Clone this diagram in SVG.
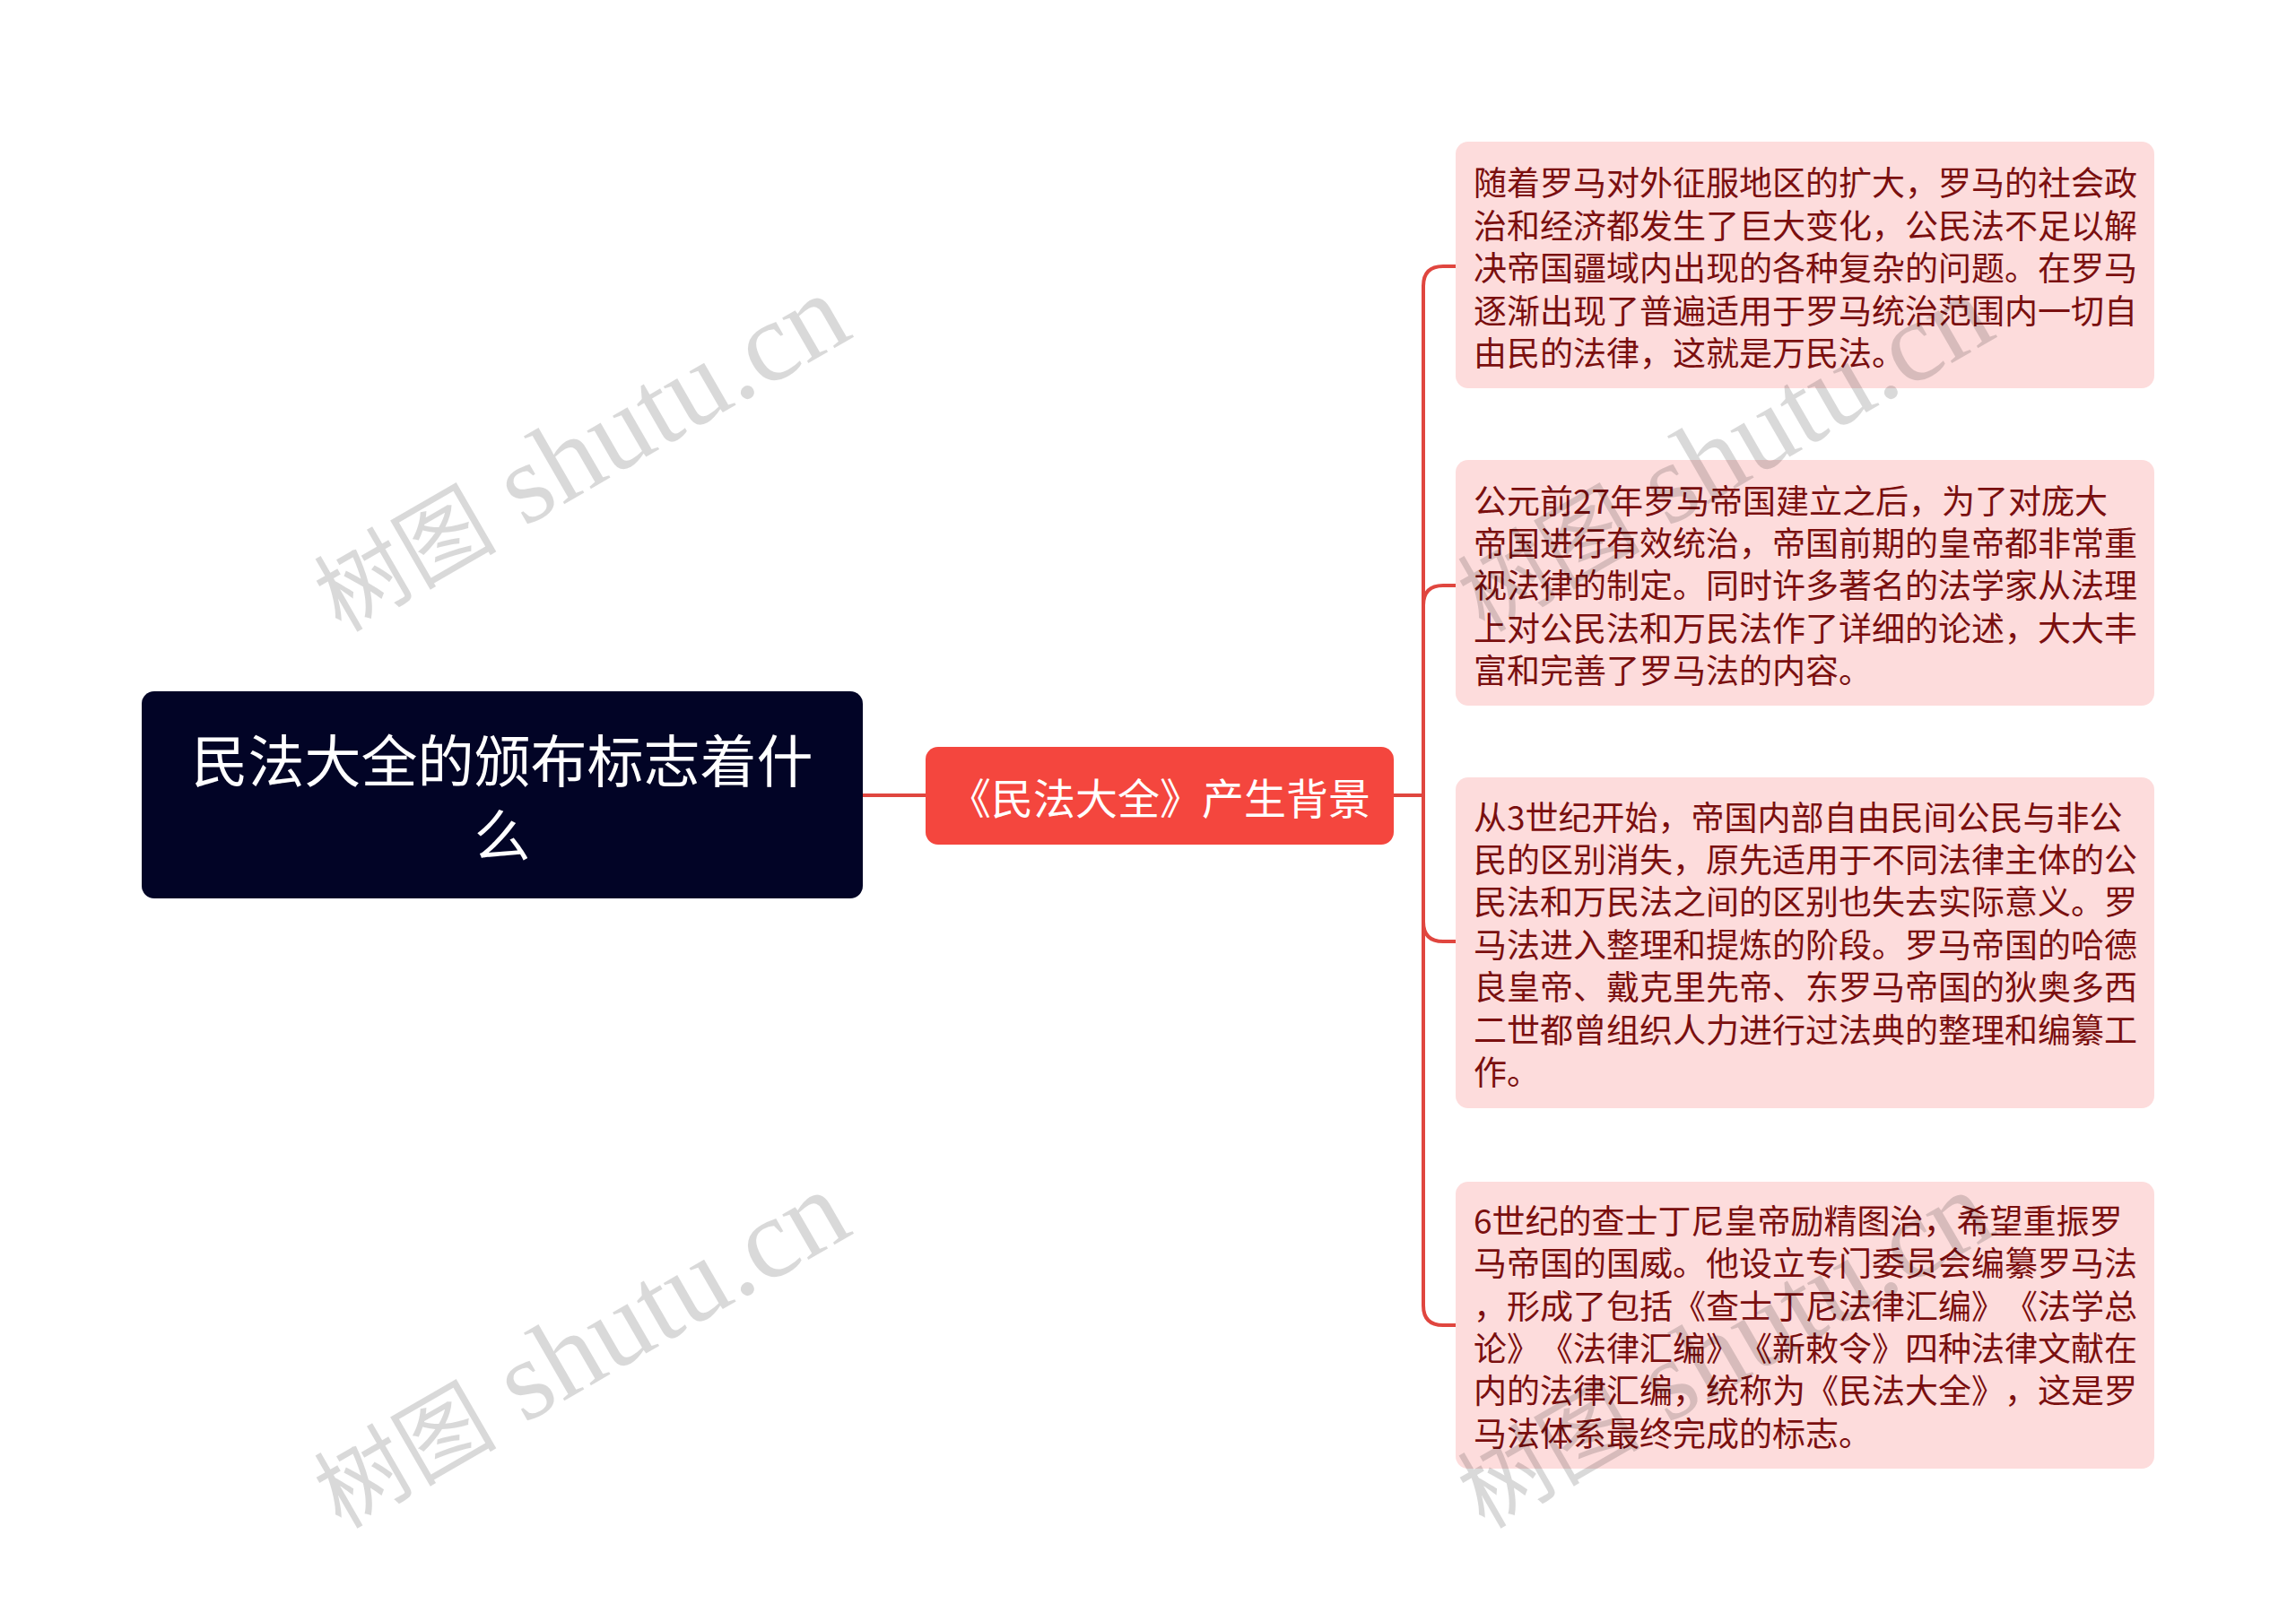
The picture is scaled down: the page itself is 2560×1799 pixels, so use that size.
<svg xmlns="http://www.w3.org/2000/svg" width="2560" height="1799" viewBox="0 0 2560 1799">
<style>
text{text-spacing-trim:space-all;font-kerning:none}
.root-box{fill:#020426}
.root-t{fill:#ffffff;font-family:"Noto Sans CJK SC",sans-serif;font-size:63px;text-anchor:middle;dominant-baseline:central}
.mid-box{fill:#f4463e}
.mid-t{fill:#ffffff;font-family:"Noto Sans CJK SC",sans-serif;font-size:47px;text-anchor:middle;dominant-baseline:central}
.leaf-box{fill:#fddcdc}
.leaf-t{fill:#7a0f0f;font-family:"Noto Sans CJK SC",sans-serif;font-size:37px;dominant-baseline:central}
.conn{fill:none;stroke:#e0463f;stroke-width:4}
.wm{fill:#000;fill-opacity:0.15;font-family:"Liberation Serif","Noto Sans CJK SC",serif;font-size:127px}
.wm-cjk{font-size:102px}
</style>
<rect width="2560" height="1799" fill="#ffffff"/>
<g id="connectors">
<path class="conn" d="M962,887 L1032,887"/>
<path class="conn" d="M1554,887 L1587,887"/>
<path class="conn" d="M1587,887 L1587,319 Q1587,297 1609,297 L1623,297"/>
<path class="conn" d="M1587,887 L1587,675 Q1587,653 1609,653 L1623,653"/>
<path class="conn" d="M1587,887 L1587,1028 Q1587,1050 1609,1050 L1623,1050"/>
<path class="conn" d="M1587,887 L1587,1456 Q1587,1478 1609,1478 L1623,1478"/>
</g>
<g id="root">
<rect class="root-box" x="158" y="771" width="804" height="231" rx="14"/>
<text class="root-t" x="560" y="844">民法大全的颁布标志着什</text>
<text class="root-t" x="560" y="927">么</text>
</g>
<g id="mid">
<rect class="mid-box" x="1032" y="833" width="522" height="109" rx="14"/>
<text class="mid-t" x="1293" y="887">《民法大全》产生背景</text>
</g>
<g id="leaf1">
<rect class="leaf-box" x="1623" y="158" width="779" height="275" rx="14"/>
<text class="leaf-t" x="1643" y="202">随着罗马对外征服地区的扩大，罗马的社会政</text>
<text class="leaf-t" x="1643" y="250">治和经济都发生了巨大变化，公民法不足以解</text>
<text class="leaf-t" x="1643" y="297">决帝国疆域内出现的各种复杂的问题。在罗马</text>
<text class="leaf-t" x="1643" y="345">逐渐出现了普遍适用于罗马统治范围内一切自</text>
<text class="leaf-t" x="1643" y="392">由民的法律，这就是万民法。</text>
</g>
<g id="leaf2">
<rect class="leaf-box" x="1623" y="513" width="779" height="274" rx="14"/>
<text class="leaf-t" x="1643" y="557">公元前27年罗马帝国建立之后，为了对庞大</text>
<text class="leaf-t" x="1643" y="604">帝国进行有效统治，帝国前期的皇帝都非常重</text>
<text class="leaf-t" x="1643" y="651">视法律的制定。同时许多著名的法学家从法理</text>
<text class="leaf-t" x="1643" y="699">上对公民法和万民法作了详细的论述，大大丰</text>
<text class="leaf-t" x="1643" y="746">富和完善了罗马法的内容。</text>
</g>
<g id="leaf3">
<rect class="leaf-box" x="1623" y="867" width="779" height="369" rx="14"/>
<text class="leaf-t" x="1643" y="910">从3世纪开始，帝国内部自由民间公民与非公</text>
<text class="leaf-t" x="1643" y="957">民的区别消失，原先适用于不同法律主体的公</text>
<text class="leaf-t" x="1643" y="1004">民法和万民法之间的区别也失去实际意义。罗</text>
<text class="leaf-t" x="1643" y="1052">马法进入整理和提炼的阶段。罗马帝国的哈德</text>
<text class="leaf-t" x="1643" y="1099">良皇帝、戴克里先帝、东罗马帝国的狄奥多西</text>
<text class="leaf-t" x="1643" y="1147">二世都曾组织人力进行过法典的整理和编纂工</text>
<text class="leaf-t" x="1643" y="1194">作。</text>
</g>
<g id="leaf4">
<rect class="leaf-box" x="1623" y="1318" width="779" height="320" rx="14"/>
<text class="leaf-t" x="1643" y="1360">6世纪的查士丁尼皇帝励精图治，希望重振罗</text>
<text class="leaf-t" x="1643" y="1407">马帝国的国威。他设立专门委员会编纂罗马法</text>
<text class="leaf-t" x="1643" y="1455">，形成了包括《查士丁尼法律汇编》《法学总</text>
<text class="leaf-t" x="1643" y="1502">论》《法律汇编》《新敕令》四种法律文献在</text>
<text class="leaf-t" x="1643" y="1549">内的法律汇编，统称为《民法大全》，这是罗</text>
<text class="leaf-t" x="1643" y="1597">马法体系最终完成的标志。</text>
</g>
<g id="watermarks">
<text class="wm" transform="translate(380,706) rotate(-30)"><tspan class="wm-cjk">树图</tspan> shutu.cn</text>
<text class="wm" transform="translate(380,1706) rotate(-30)"><tspan class="wm-cjk">树图</tspan> shutu.cn</text>
<text class="wm" transform="translate(1655,706) rotate(-30)"><tspan class="wm-cjk">树图</tspan> shutu.cn</text>
<text class="wm" transform="translate(1655,1706) rotate(-30)"><tspan class="wm-cjk">树图</tspan> shutu.cn</text>
</g>
</svg>
